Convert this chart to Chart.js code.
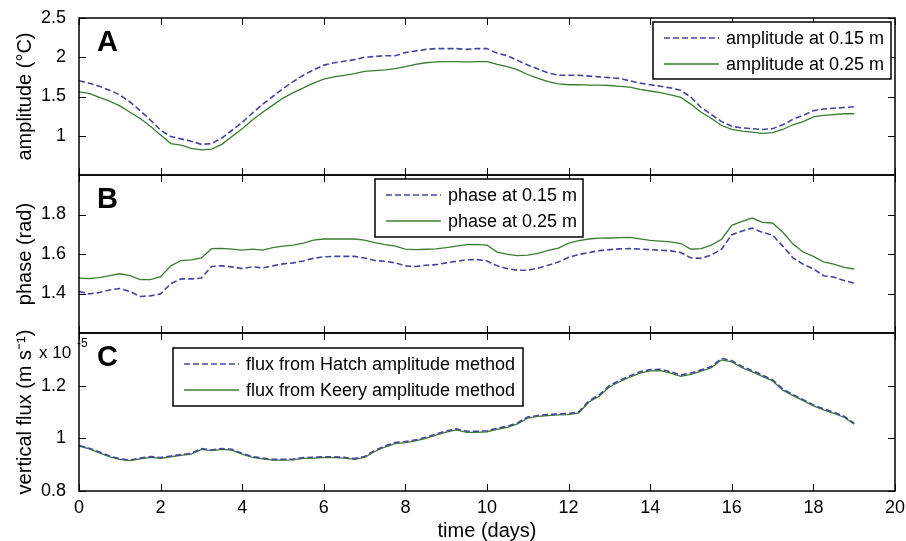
<!DOCTYPE html>
<html>
<head>
<meta charset="utf-8">
<title>Amplitude, phase and vertical flux</title>
<script src="https://cdn.jsdelivr.net/npm/chart.js@4.4.1/dist/chart.umd.min.js"></script>
<style>
  html, body { margin: 0; background: #fff; }
  #wrap { position: relative; width: 906px; height: 541px; }
  #wrap canvas { position: absolute; left: 0; top: 0; }
</style>
</head>
<body>
<div id="wrap">
  <canvas id="chartA" width="906" height="541"></canvas>
  <canvas id="chartB" width="906" height="541"></canvas>
  <canvas id="chartC" width="906" height="541"></canvas>
</div>
<script>
"use strict";

// time axis (days), one sample every 6 h
const days = [
  0, 0.25, 0.5, 0.75, 1, 1.25, 1.5, 1.75, 2, 2.25, 2.5, 2.75,
  3, 3.25, 3.5, 3.75, 4, 4.25, 4.5, 4.75, 5, 5.25, 5.5, 5.75,
  6, 6.25, 6.5, 6.75, 7, 7.25, 7.5, 7.75, 8, 8.25, 8.5, 8.75,
  9, 9.25, 9.5, 9.75, 10, 10.25, 10.5, 10.75, 11, 11.25, 11.5, 11.75,
  12, 12.25, 12.5, 12.75, 13, 13.25, 13.5, 13.75, 14, 14.25, 14.5, 14.75,
  15, 15.25, 15.5, 15.75, 16, 16.25, 16.5, 16.75, 17, 17.25, 17.5, 17.75,
  18, 18.25, 18.5, 18.75, 19
];

const xTicks = [0, 2, 4, 6, 8, 10, 12, 14, 16, 18, 20];
const ampTicks = [1, 1.5, 2, 2.5];
const phaseTicks = [1.4, 1.6, 1.8];
const fluxTicks = [0.8, 1, 1.2];

// A - amplitude (deg C)
const ampShallow = [
  1.70, 1.67, 1.63, 1.58, 1.52, 1.43, 1.32, 1.20, 1.07, 0.99, 0.96, 0.93,
  0.89, 0.90, 0.97, 1.07, 1.17, 1.29, 1.40, 1.50, 1.60, 1.69, 1.77, 1.84,
  1.90, 1.93, 1.95, 1.97, 2.00, 2.01, 2.02, 2.02, 2.06, 2.08, 2.10, 2.11,
  2.11, 2.11, 2.10, 2.11, 2.11, 2.05, 2.02, 1.96, 1.90, 1.85, 1.80, 1.77,
  1.77, 1.77, 1.76, 1.75, 1.74, 1.73, 1.70, 1.67, 1.65, 1.63, 1.61, 1.58,
  1.49, 1.36, 1.27, 1.18, 1.12, 1.10, 1.09, 1.08, 1.09, 1.14, 1.21, 1.26,
  1.32, 1.34, 1.35, 1.36, 1.37
];
const ampDeep = [
  1.56, 1.54, 1.49, 1.44, 1.38, 1.30, 1.22, 1.12, 1.01, 0.90, 0.88, 0.84,
  0.82, 0.83, 0.89, 0.99, 1.09, 1.20, 1.30, 1.39, 1.48, 1.55, 1.61, 1.67,
  1.72, 1.75, 1.77, 1.79, 1.82, 1.83, 1.84, 1.855, 1.88, 1.91, 1.93, 1.94,
  1.945, 1.945, 1.94, 1.945, 1.945, 1.91, 1.88, 1.84, 1.78, 1.73, 1.69, 1.66,
  1.65, 1.65, 1.645, 1.645, 1.64, 1.63, 1.62, 1.59, 1.57, 1.55, 1.52, 1.49,
  1.40, 1.30, 1.22, 1.13, 1.08, 1.06, 1.045, 1.03, 1.04, 1.08, 1.14, 1.18,
  1.24, 1.26, 1.27, 1.28, 1.28
];

// B - phase (rad)
const phaseShallow = [
  1.410, 1.398, 1.405, 1.418, 1.425, 1.410, 1.385, 1.388, 1.398, 1.450, 1.474, 1.474,
  1.478, 1.537, 1.540, 1.535, 1.526, 1.535, 1.530, 1.540, 1.550, 1.555, 1.565, 1.578,
  1.586, 1.588, 1.588, 1.588, 1.580, 1.567, 1.563, 1.555, 1.540, 1.537, 1.543, 1.546,
  1.555, 1.563, 1.571, 1.572, 1.565, 1.540, 1.525, 1.518, 1.518, 1.528, 1.543, 1.560,
  1.583, 1.598, 1.607, 1.617, 1.622, 1.626, 1.627, 1.625, 1.622, 1.619, 1.616, 1.607,
  1.580, 1.578, 1.595, 1.625, 1.698, 1.716, 1.731, 1.710, 1.695, 1.640, 1.580, 1.548,
  1.525, 1.490, 1.483, 1.466, 1.452
];
const phaseDeep = [
  1.478, 1.475, 1.480, 1.490, 1.500, 1.490, 1.470, 1.470, 1.485, 1.540, 1.567, 1.570,
  1.580, 1.627, 1.628, 1.625, 1.620, 1.625, 1.620, 1.632, 1.640, 1.645, 1.655, 1.670,
  1.676, 1.676, 1.676, 1.676, 1.670, 1.658, 1.648, 1.640, 1.625, 1.622, 1.624, 1.626,
  1.632, 1.640, 1.647, 1.647, 1.645, 1.610, 1.598, 1.592, 1.594, 1.603, 1.618, 1.630,
  1.655, 1.668, 1.676, 1.680, 1.681, 1.683, 1.684, 1.677, 1.669, 1.665, 1.661, 1.653,
  1.624, 1.627, 1.645, 1.675, 1.745, 1.765, 1.782, 1.760, 1.757, 1.710, 1.650, 1.610,
  1.588, 1.560, 1.549, 1.532, 1.524
];

// C - vertical flux, in units of 1e-5 m/s
const fluxHatch = [
  0.973, 0.962, 0.948, 0.933, 0.922, 0.917, 0.925, 0.931, 0.927, 0.933, 0.938, 0.943,
  0.961, 0.956, 0.961, 0.958, 0.943, 0.931, 0.925, 0.920, 0.920, 0.921, 0.927, 0.928,
  0.930, 0.930, 0.928, 0.923, 0.931, 0.954, 0.971, 0.984, 0.988, 0.994, 1.004, 1.016,
  1.028, 1.036, 1.027, 1.027, 1.029, 1.038, 1.046, 1.059, 1.081, 1.087, 1.090, 1.093,
  1.094, 1.101, 1.142, 1.165, 1.200, 1.220, 1.237, 1.253, 1.261, 1.262, 1.253, 1.240,
  1.248, 1.260, 1.273, 1.304, 1.295, 1.273, 1.257, 1.240, 1.222, 1.187, 1.166, 1.147,
  1.127, 1.112, 1.099, 1.084, 1.057
];
const fluxKeery = [
  0.971, 0.960, 0.945, 0.930, 0.920, 0.915, 0.922, 0.928, 0.924, 0.930, 0.935, 0.940,
  0.958, 0.953, 0.958, 0.955, 0.940, 0.928, 0.922, 0.917, 0.917, 0.918, 0.924, 0.925,
  0.927, 0.927, 0.925, 0.920, 0.928, 0.950, 0.967, 0.980, 0.984, 0.990, 1.000, 1.012,
  1.024, 1.032, 1.023, 1.023, 1.025, 1.034, 1.042, 1.055, 1.077, 1.083, 1.086, 1.089,
  1.090, 1.097, 1.138, 1.160, 1.195, 1.215, 1.232, 1.248, 1.256, 1.257, 1.248, 1.235,
  1.243, 1.255, 1.268, 1.298, 1.290, 1.268, 1.252, 1.235, 1.218, 1.183, 1.162, 1.143,
  1.123, 1.108, 1.095, 1.080, 1.054
];

const FONT = "'Liberation Sans', Arial, Helvetica, sans-serif";
const BLUE = "#45459e";
const GREEN = "#3c7c31";

Chart.defaults.font.family = FONT;
Chart.defaults.color = "#000";

function toPoints(vals) {
  return vals.map((v, i) => ({ x: days[i], y: v }));
}

function series(label, vals, dashed) {
  return {
    label: label,
    data: toPoints(vals),
    borderColor: dashed ? BLUE : GREEN,
    borderWidth: dashed ? 1.6 : 1.3,
    borderDash: dashed ? [6, 3] : [],
    pointRadius: 0,
    tension: 0,
    fill: false,
  };
}

// frame, inward ticks, panel letter, axis titles and legend box
const panelPlugin = {
  id: "panel",
  afterDraw(chart, args, o) {
    const ctx = chart.ctx;
    const a = chart.chartArea;
    const xs = chart.scales.x;
    const ys = chart.scales.y;
    ctx.save();

    ctx.strokeStyle = "#000";
    ctx.lineWidth = 1;
    ctx.beginPath();
    xTicks.forEach((v) => {
      const p = Math.round(xs.getPixelForValue(v)) + 0.5;
      ctx.moveTo(p, a.top);
      ctx.lineTo(p, a.top + 7);
      ctx.moveTo(p, a.bottom);
      ctx.lineTo(p, a.bottom - 7);
    });
    o.yTicks.forEach((v) => {
      const p = Math.round(ys.getPixelForValue(v)) + 0.5;
      ctx.moveTo(a.left, p);
      ctx.lineTo(a.left + 7, p);
      ctx.moveTo(a.right, p);
      ctx.lineTo(a.right - 7, p);
    });
    ctx.stroke();

    ctx.lineWidth = 1.5;
    ctx.strokeRect(a.left, a.top, a.right - a.left, a.bottom - a.top);

    ctx.fillStyle = "#000";
    ctx.font = "bold 29px " + FONT;
    ctx.textAlign = "left";
    ctx.textBaseline = "alphabetic";
    ctx.fillText(o.letter, a.left + 18, a.top + 33);

    ctx.font = "20px " + FONT;
    ctx.save();
    ctx.translate(25, (a.top + a.bottom) / 2);
    ctx.rotate(-Math.PI / 2);
    ctx.textAlign = "center";
    ctx.textBaseline = "middle";
    ctx.fillText(o.title, 0, 0);
    ctx.restore();

    // legend
    const L = o.legend;
    ctx.fillStyle = "#fff";
    ctx.fillRect(L.x, L.y, L.w, L.h);
    ctx.lineWidth = 1.5;
    ctx.strokeRect(L.x, L.y, L.w, L.h);
    ctx.font = "18px " + FONT;
    ctx.textAlign = "left";
    ctx.textBaseline = "middle";
    chart.data.datasets.forEach((ds, i) => {
      const yy = L.y + 16 + i * 26;
      ctx.strokeStyle = ds.borderColor;
      ctx.lineWidth = ds.borderWidth;
      ctx.setLineDash(ds.borderDash);
      ctx.beginPath();
      ctx.moveTo(L.x + 11, yy);
      ctx.lineTo(L.x + 66, yy);
      ctx.stroke();
      ctx.setLineDash([]);
      ctx.fillStyle = "#000";
      ctx.fillText(ds.label, L.x + 73, yy + 1);
    });

    if (o.xTitle) {
      ctx.font = "20px " + FONT;
      ctx.textAlign = "center";
      ctx.textBaseline = "middle";
      ctx.fillText(o.xTitle, (a.left + a.right) / 2, 531);
    }
    if (o.exponent) {
      ctx.font = "17px " + FONT;
      ctx.textAlign = "left";
      ctx.textBaseline = "alphabetic";
      ctx.fillText("x 10", 39, a.top + 25);
      ctx.font = "12px " + FONT;
      ctx.fillText(o.exponent, 77, a.top + 14);
    }
    ctx.restore();
  },
};

function makePanel(id, datasets, cfg) {
  return new Chart(document.getElementById(id), {
    type: "line",
    data: { datasets: datasets },
    plugins: [panelPlugin],
    options: {
      responsive: false,
      animation: false,
      devicePixelRatio: 1,
      layout: { padding: { left: 0, right: 11, top: cfg.top, bottom: cfg.bottom } },
      plugins: {
        legend: { display: false },
        tooltip: { enabled: false },
        panel: cfg.panel,
      },
      scales: {
        x: {
          type: "linear",
          min: 0,
          max: 20,
          display: cfg.showX,
          grid: { display: false },
          border: { display: false },
          afterBuildTicks: (s) => { s.ticks = xTicks.map((v) => ({ value: v })); },
          afterFit: (s) => { if (cfg.showX) s.height = 50; },
          ticks: { font: { size: 18 }, padding: -2, maxRotation: 0, callback: (v) => String(v) },
        },
        y: {
          min: cfg.min,
          max: cfg.max,
          grid: { display: false },
          border: { display: false },
          afterBuildTicks: (s) => { s.ticks = cfg.panel.yTicks.map((v) => ({ value: v })); },
          afterFit: (s) => { s.width = 79; },
          ticks: { font: { size: 18 }, padding: 5, callback: (v) => String(v) },
        },
      },
    },
  });
}

makePanel("chartA",
  [series("amplitude at 0.15 m", ampShallow, true), series("amplitude at 0.25 m", ampDeep, false)],
  {
    top: 18, bottom: 541 - 175, showX: false, min: 0.5, max: 2.5,
    panel: { letter: "A", title: "amplitude (\u00B0C)", yTicks: ampTicks,
      legend: { x: 653, y: 22, w: 238, h: 57 } },
  });

makePanel("chartB",
  [series("phase at 0.15 m", phaseShallow, true), series("phase at 0.25 m", phaseDeep, false)],
  {
    top: 175, bottom: 541 - 333, showX: false, min: 1.2, max: 2.0,
    panel: { letter: "B", title: "phase (rad)", yTicks: phaseTicks,
      legend: { x: 375, y: 179, w: 208, h: 58 } },
  });

makePanel("chartC",
  [series("flux from Hatch amplitude method", fluxHatch, true), series("flux from Keery amplitude method", fluxKeery, false)],
  {
    top: 333, bottom: 0, showX: true, min: 0.8, max: 1.4,
    panel: { letter: "C", title: "vertical flux (m s\u207B\u00B9)", yTicks: fluxTicks,
      legend: { x: 173, y: 348, w: 350, h: 58 }, xTitle: "time (days)", exponent: "-5" },
  });
</script>
</body>
</html>
